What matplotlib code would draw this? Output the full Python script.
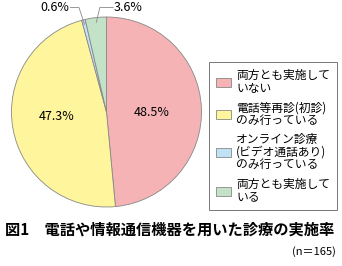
import numpy as np
import matplotlib
matplotlib.use('Agg')
import matplotlib.pyplot as plt
from matplotlib.patches import Patch

plt.rcParams['font.family'] = ['Noto Sans CJK JP', 'DejaVu Sans']

labels = ['両方とも実施して\nいない', '電話等再診(初診)\nのみ行っている',
          'オンライン診療\n(ビデオ通話あり)\nのみ行っている', '両方とも実施して\nいる']
values = [48.5, 47.3, 0.6, 3.6]
colors = ['#f5b3b6', '#fff59c', '#bfe2f4', '#c4e2c8']
title = '図1　電話や情報通信機器を用いた診療の実施率'
note = '(n＝165)'

W, H = 342, 266
fig = plt.figure(figsize=(W / 100, H / 100), dpi=100)

# pie axes placed in pixel terms: centre (106.5, 112), radius 95
cx, cy, r = 106.5, 112, 95
ax = fig.add_axes([(cx - r) / W, (H - cy - r) / H, 2 * r / W, 2 * r / H])
wedges, _ = ax.pie(values, colors=colors, startangle=90, counterclock=False,
                   radius=1, wedgeprops=dict(edgecolor='#888888', linewidth=0.6))
ax.set_xlim(-1, 1)
ax.set_ylim(-1, 1)
ax.axis('off')

# large slices: labels inside
ax.text(0.48, -0.01, f'{values[0]}%', ha='center', va='center', fontsize=9)
ax.text(-0.52, -0.05, f'{values[1]}%', ha='center', va='center', fontsize=9)

# small slices: labels above with leader lines
def anchor(w):
    a = np.deg2rad((w.theta1 + w.theta2) / 2)
    return 0.95 * np.cos(a), 0.95 * np.sin(a)

ax0, ay0 = anchor(wedges[2])
ax.plot([-0.38, -0.29, ax0], [1.1, 1.1, ay0], color='#888888', lw=0.6, clip_on=False)
ax.text(-0.39, 1.1, f'{values[2]}%', ha='right', va='center', fontsize=9)

gx, gy = anchor(wedges[3])
ax.plot([0.07, -0.07, gx], [1.1, 1.1, gy], color='#888888', lw=0.6, clip_on=False)
ax.text(0.08, 1.1, f'{values[3]}%', ha='left', va='center', fontsize=9)

handles = [Patch(facecolor=c, edgecolor='#888888', linewidth=0.6) for c in colors]
leg = fig.legend(handles, labels, loc='upper left',
                 bbox_to_anchor=(209 / W, (H - 62) / H), fontsize=8.5,
                 frameon=True, fancybox=False, edgecolor='#555555',
                 handlelength=1.3, handleheight=0.8, handletextpad=0.4,
                 labelspacing=0.55, borderpad=0.6, borderaxespad=0)
leg.get_frame().set_linewidth(0.7)
for t in leg.get_texts():
    t.set_linespacing(0.95)

fig.text(5 / W, (H - 230) / H, title, ha='left', va='center', fontsize=11,
         fontweight='bold')
fig.text(336 / W, (H - 252) / H, note, ha='right', va='center', fontsize=8)

fig.savefig('out.png', dpi=100)
